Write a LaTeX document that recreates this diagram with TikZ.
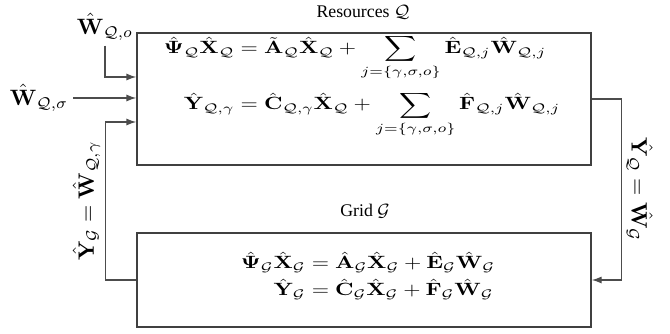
\documentclass[tikz,border=0pt]{standalone}
\usepackage{amsmath}
\usepackage{graphicx}
\usepackage[no-math]{fontspec}
\setmainfont{Liberation Serif}
\usetikzlibrary{arrows.meta, positioning, calc}

\begin{document}
\begin{tikzpicture}[x=0.45pt, y=0.45pt,
        box/.style={draw=black!75, line width=0.6pt, minimum width=204.3pt, inner sep=0pt},
        line/.style={draw=black!70, line width=0.6pt},
        arr/.style={line, -{Latex[length=4.5pt, width=3.2pt]}},
        lbl/.style={font=\footnotesize, inner sep=1pt},
        sig/.style={inner sep=2pt},
        eqn/.style={inner sep=0pt}
    ]
        \useasboundingbox (0,0) rectangle (670,333);

        \node[box, minimum height=59.4pt] (res)  at (364,234) {};
        \node[box, minimum height=42.3pt] (grid) at (364,53)  {};
        \node[lbl] (reslbl)  at (363,321) {Resources $\mathcal{Q}$};
        \node[lbl] (gridlbl) at (365,122) {Grid $\mathcal{G}$};

        % state equations
        \node[eqn] (reseq) at (362,247) {\scalebox{1}[0.8]{$\begin{aligned}
            \hat{\mathbf{\Psi}}_{\mathcal{Q}}\hat{\mathbf{X}}_{\mathcal{Q}} &= \tilde{\mathbf{A}}_{\mathcal{Q}}\hat{\mathbf{X}}_{\mathcal{Q}} + \sum_{j=\{\gamma,\sigma,o\}} \hat{\mathbf{E}}_{\mathcal{Q},j}\hat{\mathbf{W}}_{\mathcal{Q},j}\\[2pt]
            \hat{\mathbf{Y}}_{\mathcal{Q},\gamma} &= \hat{\mathbf{C}}_{\mathcal{Q},\gamma}\hat{\mathbf{X}}_{\mathcal{Q}} + \sum_{j=\{\gamma,\sigma,o\}} \hat{\mathbf{F}}_{\mathcal{Q},j}\hat{\mathbf{W}}_{\mathcal{Q},j}
        \end{aligned}$}};
        \node[eqn] (grideq) at (368,56) {\scalebox{1}[0.8]{$\begin{aligned}
            \hat{\mathbf{\Psi}}_{\mathcal{G}}\hat{\mathbf{X}}_{\mathcal{G}} &= \hat{\mathbf{A}}_{\mathcal{G}}\hat{\mathbf{X}}_{\mathcal{G}} + \hat{\mathbf{E}}_{\mathcal{G}}\hat{\mathbf{W}}_{\mathcal{G}}\\[-2pt]
            \hat{\mathbf{Y}}_{\mathcal{G}} &= \hat{\mathbf{C}}_{\mathcal{G}}\hat{\mathbf{X}}_{\mathcal{G}} + \hat{\mathbf{F}}_{\mathcal{G}}\hat{\mathbf{W}}_{\mathcal{G}}
        \end{aligned}$}};

        % external inputs
        \node[sig] (wo) at (105,306) {$\hat{\mathbf{W}}_{\mathcal{Q},o}$};
        \node[sig] (ws) at (39,235)  {$\hat{\mathbf{W}}_{\mathcal{Q},\sigma}$};
        \coordinate (oin) at ($(res.west)+(0,22)$);
        \coordinate (gin) at ($(res.west)+(0,-23)$);
        \draw[arr] (wo.south) |- (oin);
        \draw[arr] (ws.east) -- (ws.east -| res.west);

        % grid -> resources
        \coordinate (g1) at ($(grid.west)+(-31,0)$);
        \coordinate (g2) at (g1 |- gin);
        \draw[line] (grid.west) -- (g1);
        \draw[line] (g1) -- node[sig, above, sloped] {$\hat{\mathbf{Y}}_{\mathcal{G}} = \hat{\mathbf{W}}_{\mathcal{Q},\gamma}$} (g2);
        \draw[arr]  (g2) -- (gin);

        % resources -> grid
        \coordinate (r1) at ($(res.east)+(30,0)$);
        \coordinate (r2) at (r1 |- grid.east);
        \draw[line] (res.east) -- (r1);
        \draw[line] (r1) -- node[sig, above, sloped] {$\hat{\mathbf{Y}}_{\mathcal{Q}} = \hat{\mathbf{W}}_{\mathcal{G}}$} (r2);
        \draw[arr]  (r2) -- (grid.east);
    \end{tikzpicture}
\end{document}
